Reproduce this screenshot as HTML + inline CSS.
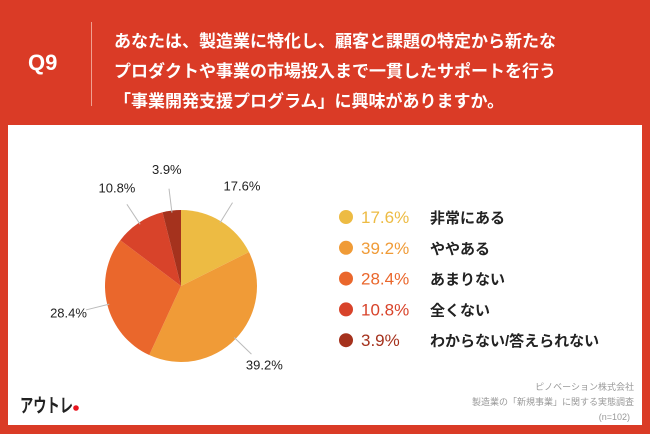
<!DOCTYPE html>
<html><head><meta charset="utf-8"><style>
body{margin:0;width:650px;height:434px;background:#DA3B26;overflow:hidden;font-family:"Liberation Sans","Noto Sans CJK JP",sans-serif;position:relative}
.q{position:absolute;left:28px;top:50px;color:#fff;font-size:22px;font-weight:bold}
.sep{position:absolute;left:91px;top:22px;width:1px;height:84px;background:#f0a090}
.title{position:absolute;left:114px;top:27px;color:#fff;font-size:17px;font-weight:bold;line-height:30px;white-space:nowrap}
.panel{position:absolute;left:8px;top:125px;width:634px;height:300px;background:#fff}
</style></head><body>
<div class="q">Q9</div>
<div class="sep"></div>
<div class="title">あなたは、製造業に特化し、顧客と課題の特定から新たな<br>プロダクトや事業の市場投入まで一貫したサポートを行う<br>「事業開発支援プログラム」に興味がありますか。</div>
<div class="panel"></div>
<svg width="650" height="434" style="position:absolute;left:0;top:0" id="chart">
<text x="20" y="412" font-size="19" font-weight="bold" fill="#222" textLength="53" lengthAdjust="spacingAndGlyphs" font-family="Liberation Sans,Noto Sans CJK JP,sans-serif">アウトレ</text>
<circle cx="76" cy="408" r="2.8" fill="#e8141e"/>
<g font-size="9" fill="#999" text-anchor="end" font-family="Liberation Sans,Noto Sans CJK JP,sans-serif">
<text x="634" y="390">ピノベーション株式会社</text>
<text x="634" y="405">製造業の「新規事業」に関する実態調査</text>
<text x="630" y="420">(n=102)</text>
</g>
</svg>
<script>
const categories=["非常にある","ややある","あまりない","全くない","わからない/答えられない"];
const values=[17.6,39.2,28.4,10.8,3.9];
const labels=["17.6%","39.2%","28.4%","10.8%","3.9%"];
const colors=["#EDBB43","#F09B37","#EA672C","#D8432A","#A5321D"];
const svg=document.getElementById('chart');
const NS="http://www.w3.org/2000/svg";
const cx=181,cy=286,r=76;
const total=values.reduce((a,b)=>a+b,0);
function pt(a,rad){return [cx+rad*Math.sin(a),cy-rad*Math.cos(a)];}
let a0=0;
values.forEach((v,i)=>{
  const a1=a0+v/total*2*Math.PI;
  const [x0,y0]=pt(a0,r),[x1,y1]=pt(a1,r);
  const p=document.createElementNS(NS,'path');
  p.setAttribute('d',`M${cx},${cy}L${x0},${y0}A${r},${r} 0 ${a1-a0>Math.PI?1:0} 1 ${x1},${y1}Z`);
  p.setAttribute('fill',colors[i]);
  
  
  svg.appendChild(p);
  const m=(a0+a1)/2;
  const [lx0,ly0]=pt(m,r-2),[lx1,ly1]=pt(m,r+22),[tx,ty]=pt(m,r+40);
  const l=document.createElementNS(NS,'line');
  l.setAttribute('x1',lx0);l.setAttribute('y1',ly0);l.setAttribute('x2',lx1);l.setAttribute('y2',ly1);
  l.setAttribute('stroke','#bbb');l.setAttribute('stroke-width','1');
  
  
  svg.appendChild(l);
  const t=document.createElementNS(NS,'text');
  t.setAttribute('x',tx);t.setAttribute('y',ty+3);t.setAttribute('text-anchor','middle');
  t.setAttribute('font-size','13');t.setAttribute('fill','#222');
  t.textContent=labels[i];
  
  
  svg.appendChild(t);
  a0=a1;
  const y=217+i*30.8;
  const c=document.createElementNS(NS,'circle');
  c.setAttribute('cx',346);c.setAttribute('cy',y);c.setAttribute('r',7);c.setAttribute('fill',colors[i]);
  
  
  svg.appendChild(c);
  const pt1=document.createElementNS(NS,'text');
  pt1.setAttribute('x',361);pt1.setAttribute('y',y+6);pt1.setAttribute('font-size','17');pt1.setAttribute('fill',colors[i]);
  pt1.textContent=labels[i];
  
  
  svg.appendChild(pt1);
  const lt=document.createElementNS(NS,'text');
  lt.setAttribute('x',430);lt.setAttribute('y',y+6);lt.setAttribute('font-size','15');lt.setAttribute('font-weight','bold');lt.setAttribute('fill','#222');
  lt.textContent=categories[i];
  
  
  svg.appendChild(lt);
});
</script>
</body></html>
